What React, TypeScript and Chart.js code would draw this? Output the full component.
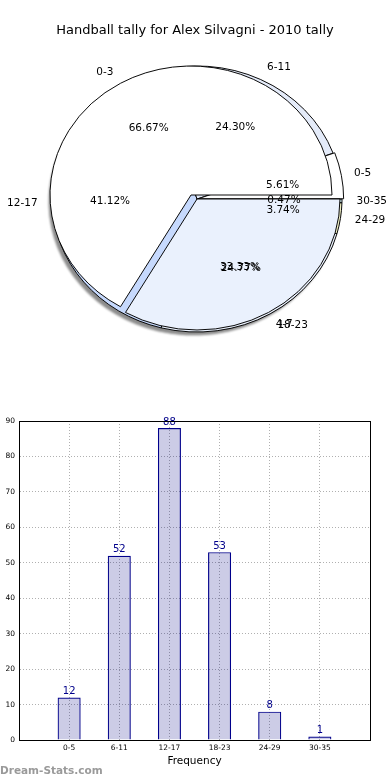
import React, { useEffect, useRef } from 'react';
import { Chart, registerables } from 'chart.js';

Chart.register(...registerables);

const TITLE = 'Handball tally for Alex Silvagni - 2010 tally';
const X_LABEL = 'Frequency';
const WATERMARK = 'Dream-Stats.com';

// main series
const categories = ['0-5', '6-11', '12-17', '18-23', '24-29', '30-35'];
const frequencies = [12, 52, 88, 53, 8, 1];
const sliceColors = ['#ffffff', '#e4ebf9', '#c6d9fd', '#eaf1fd', '#eeeec4', '#cfeef4'];

// second (overlaid) pie
const overlayLabels = ['0-3', '4-7'];
const overlayValues = [2, 1];
const overlayColors = ['#ffffff', '#eaf1fd'];

// bar axis
const yMin = 0;
const yMax = 90;
const yStep = 10;

const FONT = '"DejaVu Sans", "Liberation Sans", sans-serif';

const rev = <T,>(a: T[]): T[] => [...a].reverse();

function ellipsePlugin(k: number) {
  return {
    id: 'ellipse',
    beforeDatasetsDraw(chart: any) {
      const el = chart.getDatasetMeta(0).data[0];
      const ctx = chart.ctx;
      ctx.save();
      ctx.translate(el.x, el.y);
      ctx.scale(1, k);
      ctx.translate(-el.x, -el.y);
    },
    afterDatasetsDraw(chart: any) {
      chart.ctx.restore();
    },
  };
}

type LabelSource = {
  chart: any;
  k: number;
  labels: string[];
  values: number[];
  show: boolean[];
};

function labelPlugin(sources: LabelSource[]) {
  return {
    id: 'pieLabels',
    afterDraw(chart: any) {
      const ctx = chart.ctx;
      ctx.save();
      ctx.font = `10.5px ${FONT}`;
      ctx.fillStyle = '#000';
      ctx.textBaseline = 'middle';
      for (const s of sources) {
        const meta = s.chart.getDatasetMeta(0);
        const total = s.values.reduce((a, b) => a + b, 0);
        meta.data.forEach((el: any, i: number) => {
          if (!s.show[i]) return;
          const mid = (el.startAngle + el.endAngle) / 2;
          const r = el.outerRadius;
          const c = Math.cos(mid);
          const sn = Math.sin(mid);
          ctx.textAlign = c > 0 ? 'left' : 'right';
          ctx.fillText(s.labels[i], el.x + 1.1 * r * c, el.y + 1.1 * r * sn * s.k);
          ctx.textAlign = 'center';
          const pct = ((s.values[i] / total) * 100).toFixed(2) + '%';
          ctx.fillText(pct, el.x + 0.6 * r * c, el.y + 0.6 * r * sn * s.k);
        });
      }
      ctx.restore();
    },
  };
}

function pieConfig(
  labels: string[],
  values: number[],
  colors: string[],
  borderWidths: number[],
  radius: number,
  padding: any,
  offsets: number[],
  plugins: any[]
): any {
  return {
    type: 'pie',
    data: {
      labels,
      datasets: [
        {
          data: values,
          backgroundColor: colors,
          borderColor: '#000',
          borderWidth: borderWidths,
          radius,
          rotation: 90,
          offset: offsets,
          hoverOffset: 0,
        },
      ],
    },
    options: {
      responsive: false,
      animation: false,
      devicePixelRatio: 1,
      events: [],
      layout: { padding },
      plugins: { legend: { display: false }, tooltip: { enabled: false } },
    },
    plugins,
  };
}

export default function App() {
  const c1 = useRef<HTMLCanvasElement>(null);
  const c2 = useRef<HTMLCanvasElement>(null);
  const c3 = useRef<HTMLCanvasElement>(null);
  const c4 = useRef<HTMLCanvasElement>(null);

  useEffect(() => {
    const charts: Chart[] = [];

    const k1 = 133 / 145;
    const mainLabels = rev(categories);
    const mainValues = rev(frequencies);
    const chart1 = new Chart(
      c1.current!,
      pieConfig(
        mainLabels,
        mainValues,
        rev(sliceColors),
        mainValues.map(() => 1),
        145,
        { left: 4, right: 0, top: 8, bottom: 0 },
        [0, 0, 0, 0, 0, 4],
        [ellipsePlugin(k1)]
      )
    );
    charts.push(chart1);

    const ovLabels = rev(overlayLabels);
    const ovValues = rev(overlayValues);
    const ovColors = rev(overlayColors);

    const k2 = 131 / 143;
    const chart2 = new Chart(
      c2.current!,
      pieConfig(
        ovLabels,
        ovValues,
        [ovColors[0], 'rgba(0,0,0,0)'],
        [1, 0],
        143,
        { left: 4, right: 0, top: 8, bottom: 0 },
        [0, 0],
        [ellipsePlugin(k2)]
      )
    );
    charts.push(chart2);

    const k3 = 129 / 141;
    const sources: LabelSource[] = [
      { chart: chart1, k: k1, labels: mainLabels, values: mainValues, show: mainValues.map(() => true) },
      { chart: chart2, k: k2, labels: ovLabels, values: ovValues, show: [true, false] },
    ];
    const chart3 = new Chart(
      c3.current!,
      pieConfig(
        ovLabels,
        ovValues,
        ['rgba(0,0,0,0)', ovColors[1]],
        [0, 1],
        141,
        { left: 0, right: 8, top: 0, bottom: 0 },
        [0, 0],
        [ellipsePlugin(k3), labelPlugin(sources)]
      )
    );
    sources.push({ chart: chart3, k: k3, labels: ovLabels, values: ovValues, show: [false, true] });
    chart3.draw();
    charts.push(chart3);

    // bar chart
    const barLabels = ['', ...categories, ''];
    const barData = [null, ...frequencies, null];

    const framePlugin = {
      id: 'frame',
      afterDraw(chart: any) {
        const { ctx, chartArea: a } = chart;
        ctx.save();
        ctx.strokeStyle = '#000';
        ctx.lineWidth = 1;
        ctx.strokeRect(Math.round(a.left) + 0.5, Math.round(a.top) + 0.5, Math.round(a.right - a.left), Math.round(a.bottom - a.top));
        ctx.restore();
      },
    };
    const valuePlugin = {
      id: 'values',
      afterDatasetsDraw(chart: any) {
        const ctx = chart.ctx;
        const meta = chart.getDatasetMeta(0);
        ctx.save();
        ctx.font = `10px ${FONT}`;
        ctx.fillStyle = '#00008b';
        ctx.textAlign = 'center';
        ctx.textBaseline = 'bottom';
        meta.data.forEach((el: any, i: number) => {
          const v = barData[i];
          if (v === null || v === undefined) return;
          ctx.fillText(String(v), el.x, el.y - 1);
        });
        ctx.restore();
      },
    };

    const chart4 = new Chart(c4.current!, {
      type: 'bar',
      data: {
        labels: barLabels,
        datasets: [
          {
            data: barData as any,
            backgroundColor: 'rgba(0,0,128,0.2)',
            borderColor: '#00008b',
            borderWidth: 1.2,
            barPercentage: 0.46,
            categoryPercentage: 1,
          },
        ],
      },
      options: {
        responsive: false,
        animation: false,
        devicePixelRatio: 1,
        events: [],
        layout: { padding: { left: 0, right: 20, top: 21, bottom: 0 } },
        plugins: { legend: { display: false }, tooltip: { enabled: false } },
        scales: {
          x: {
            offset: false,
            grid: { color: '#b0b0b0', lineWidth: 1, drawTicks: false, offset: false },
            border: { display: true, color: '#000', width: 1, dash: [1, 2] },
            ticks: { font: { family: FONT, size: 7.5 }, color: '#000', padding: 4, autoSkip: false, maxRotation: 0 },
            title: { display: true, text: X_LABEL, font: { family: FONT, size: 10.5 }, color: '#000', padding: { top: 2, bottom: 12 } },
            afterFit: (s: any) => {
              s.height = 40;
            },
          },
          y: {
            min: yMin,
            max: yMax,
            grid: { color: '#b0b0b0', lineWidth: 1, drawTicks: false },
            border: { display: true, color: '#000', width: 1, dash: [1, 2] },
            ticks: { stepSize: yStep, font: { family: FONT, size: 7.5 }, color: '#000', padding: 4 },
            afterFit: (s: any) => {
              s.width = 19;
            },
          },
        },
      },
      plugins: [valuePlugin, framePlugin],
    });
    charts.push(chart4);

    return () => charts.forEach((c) => c.destroy());
  }, []);

  const abs: React.CSSProperties = { position: 'absolute', left: 0, top: 0 };

  return (
    <div style={{ position: 'absolute', left: 0, top: 0, width: 390, height: 780, background: '#fff', fontFamily: FONT, overflow: 'hidden' }}>
      <canvas ref={c1} width={390} height={390} style={{ ...abs, filter: 'drop-shadow(-3px 3px 1px rgba(0,0,0,0.45))' }} />
      <canvas ref={c2} width={390} height={390} style={abs} />
      <canvas ref={c3} width={390} height={390} style={abs} />
      <canvas ref={c4} width={390} height={380} style={{ ...abs, top: 400 }} />
      <div style={{ position: 'absolute', left: 0, top: 22, width: 390, textAlign: 'center', fontSize: 13, lineHeight: '16px', color: '#000' }}>
        {TITLE}
      </div>
      <div style={{ position: 'absolute', left: 0, top: 762, fontSize: 10.5, fontWeight: 'bold', lineHeight: '16px', color: '#9a9a9a' }}>
        {WATERMARK}
      </div>
    </div>
  );
}
